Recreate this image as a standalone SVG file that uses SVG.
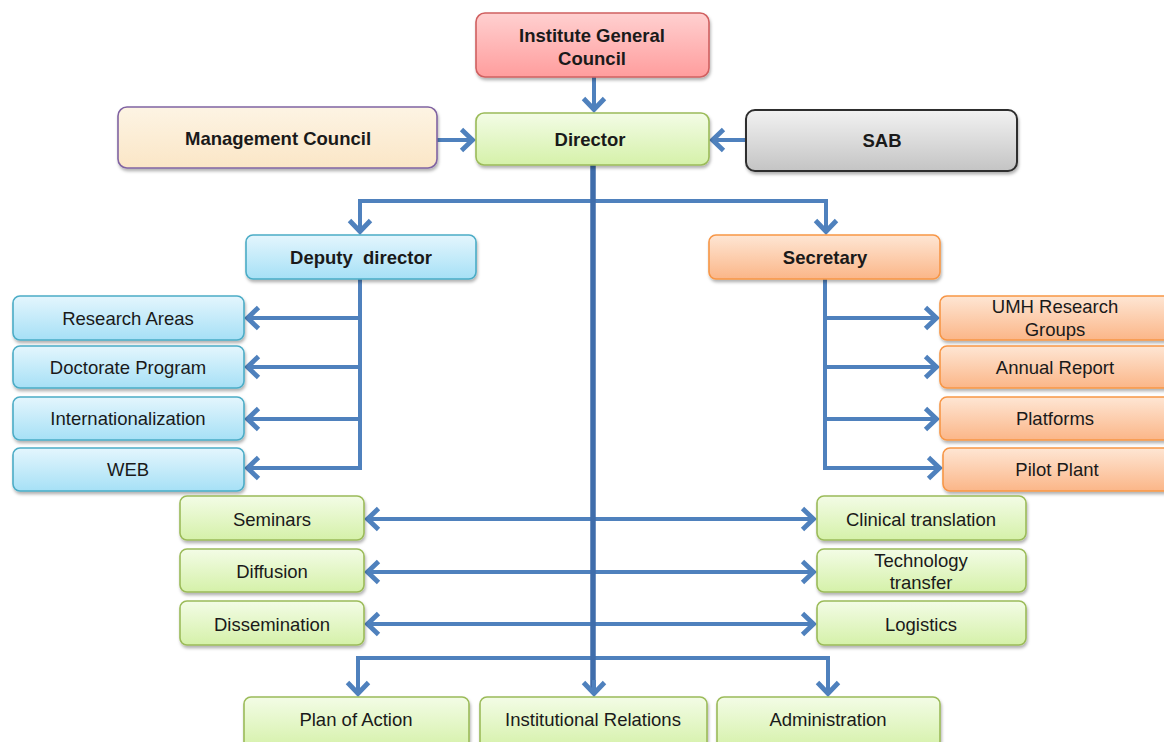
<svg xmlns="http://www.w3.org/2000/svg" width="1164" height="742" viewBox="0 0 1164 742">
<style>
text{font-family:"Liberation Sans",Arial,sans-serif;font-size:18.5px;fill:#1a1a1a;text-anchor:middle}
.b{font-weight:bold}
.c{fill:none;stroke:#4f81bd;stroke-width:4;stroke-linejoin:miter}
.trunk{fill:none;stroke:#3f6dab;stroke-width:5.5}
.box{stroke-width:1.6;filter:url(#sh)}
.red{fill:url(#gRed);stroke:#d06060}
.grn{fill:url(#gGrn);stroke:#9bbb59}
.blu{fill:url(#gBlu);stroke:#4bacc6}
.org{fill:url(#gOrg);stroke:#f79646}
.gry{fill:url(#gGry);stroke:#2e2e2e;stroke-width:2}
.bge{fill:url(#gBge);stroke:#8064a2}
</style>
<defs>
<filter id="sh" x="-10%" y="-20%" width="120%" height="150%"><feDropShadow dx="1" dy="2.5" stdDeviation="1.5" flood-color="#000" flood-opacity="0.3"/></filter>
<linearGradient id="gRed" x1="0" y1="0" x2="0" y2="1"><stop offset="0" stop-color="#ffd0d0"/><stop offset="1" stop-color="#ff9d9d"/></linearGradient>
<linearGradient id="gGrn" x1="0" y1="0" x2="0" y2="1"><stop offset="0" stop-color="#f3fce6"/><stop offset="1" stop-color="#d5f1a9"/></linearGradient>
<linearGradient id="gBlu" x1="0" y1="0" x2="0" y2="1"><stop offset="0" stop-color="#e4f6fd"/><stop offset="1" stop-color="#a6e0f6"/></linearGradient>
<linearGradient id="gOrg" x1="0" y1="0" x2="0" y2="1"><stop offset="0" stop-color="#fee6d4"/><stop offset="1" stop-color="#fbb688"/></linearGradient>
<linearGradient id="gGry" x1="0" y1="0" x2="0" y2="1"><stop offset="0" stop-color="#f2f2f2"/><stop offset="1" stop-color="#c4c4c4"/></linearGradient>
<linearGradient id="gBge" x1="0" y1="0" x2="0" y2="1"><stop offset="0" stop-color="#fdf4e4"/><stop offset="1" stop-color="#fbe6c6"/></linearGradient>
<marker id="ah" markerUnits="userSpaceOnUse" markerWidth="34" markerHeight="34" viewBox="-22 -17 34 34" refX="0" refY="0" orient="auto-start-reverse">
<path d="M-12.5,-10.5 L-1.5,0 L-12.5,10.5" fill="none" stroke="#4f81bd" stroke-width="4.8"/>
</marker>
</defs>

<g id="connectors">
<path class="c" d="M594,77 V111" marker-end="url(#ah)"/>
<path class="c" d="M437,140 H474" marker-end="url(#ah)"/>
<path class="c" d="M746,140 H711" marker-end="url(#ah)"/>
<path class="c" d="M593,201 H360 V233" marker-end="url(#ah)"/>
<path class="c" d="M593,201 H826 V233" marker-end="url(#ah)"/>
<path class="c" d="M360,279 V468 H246" marker-end="url(#ah)"/>
<path class="c" d="M360,318 H246" marker-end="url(#ah)"/>
<path class="c" d="M360,367 H246" marker-end="url(#ah)"/>
<path class="c" d="M360,419 H246" marker-end="url(#ah)"/>
<path class="c" d="M825,279 V468 H941" marker-end="url(#ah)"/>
<path class="c" d="M825,318 H938" marker-end="url(#ah)"/>
<path class="c" d="M825,367 H938" marker-end="url(#ah)"/>
<path class="c" d="M825,419 H938" marker-end="url(#ah)"/>
<path class="c" d="M366,519 H815" marker-start="url(#ah)" marker-end="url(#ah)"/>
<path class="c" d="M366,572 H815" marker-start="url(#ah)" marker-end="url(#ah)"/>
<path class="c" d="M366,624 H815" marker-start="url(#ah)" marker-end="url(#ah)"/>
<path class="c" d="M593,658 H358 V695" marker-end="url(#ah)"/>
<path class="c" d="M593,658 H828 V695" marker-end="url(#ah)"/>
<path class="trunk" d="M593,165 V690"/>
<path class="c" d="M594,680 V695" marker-end="url(#ah)"/>
</g>

<g id="igc"><rect class="box red" x="476" y="13" width="233" height="64" rx="9"/><text class="b" x="592" y="42">Institute General</text><text class="b" x="592" y="65">Council</text></g>
<g id="director"><rect class="box grn" x="476" y="113" width="233" height="52" rx="8"/><text class="b" x="590" y="146">Director</text></g>
<g id="mgmt"><rect class="box bge" x="118" y="107" width="319" height="61" rx="9"/><text class="b" x="278" y="145">Management Council</text></g>
<g id="sab"><rect class="box gry" x="746" y="110" width="271" height="61" rx="9"/><text class="b" x="882" y="147">SAB</text></g>
<g id="deputy"><rect class="box blu" x="246" y="235" width="230" height="44" rx="7"/><text class="b" x="361" y="264" xml:space="preserve">Deputy  director</text></g>
<g id="secretary"><rect class="box org" x="709" y="235" width="231" height="44" rx="7"/><text class="b" x="825" y="264">Secretary</text></g>

<g id="research-areas"><rect class="box blu" x="13" y="296" width="231" height="44" rx="7"/><text x="128" y="325">Research Areas</text></g>
<g id="doctorate"><rect class="box blu" x="13" y="346" width="231" height="42" rx="7"/><text x="128" y="374">Doctorate Program</text></g>
<g id="intl"><rect class="box blu" x="13" y="397" width="231" height="43" rx="7"/><text x="128" y="425">Internationalization</text></g>
<g id="web"><rect class="box blu" x="13" y="448" width="231" height="43" rx="7"/><text x="128" y="476">WEB</text></g>

<g id="umh"><rect class="box org" x="940" y="296" width="232" height="44" rx="7"/><text x="1055" y="313">UMH Research</text><text x="1055" y="336">Groups</text></g>
<g id="annual"><rect class="box org" x="940" y="346" width="232" height="42" rx="7"/><text x="1055" y="374">Annual Report</text></g>
<g id="platforms"><rect class="box org" x="940" y="397" width="232" height="43" rx="7"/><text x="1055" y="425">Platforms</text></g>
<g id="pilot"><rect class="box org" x="943" y="448" width="229" height="43" rx="7"/><text x="1057" y="476">Pilot Plant</text></g>

<g id="seminars"><rect class="box grn" x="180" y="496" width="184" height="44" rx="7"/><text x="272" y="526">Seminars</text></g>
<g id="diffusion"><rect class="box grn" x="180" y="549" width="184" height="43" rx="7"/><text x="272" y="578">Diffusion</text></g>
<g id="dissemination"><rect class="box grn" x="180" y="601" width="184" height="44" rx="7"/><text x="272" y="631">Dissemination</text></g>

<g id="clinical"><rect class="box grn" x="817" y="496" width="209" height="44" rx="7"/><text x="921" y="526">Clinical translation</text></g>
<g id="techtransfer"><rect class="box grn" x="817" y="549" width="209" height="43" rx="7"/><text x="921" y="567">Technology</text><text x="921" y="589">transfer</text></g>
<g id="logistics"><rect class="box grn" x="817" y="601" width="209" height="44" rx="7"/><text x="921" y="631">Logistics</text></g>

<g id="plan"><rect class="box grn" x="244" y="697" width="225" height="52" rx="7"/><text x="356" y="726">Plan of Action</text></g>
<g id="institutional"><rect class="box grn" x="480" y="697" width="227" height="52" rx="7"/><text x="593" y="726">Institutional Relations</text></g>
<g id="administration"><rect class="box grn" x="717" y="697" width="223" height="52" rx="7"/><text x="828" y="726">Administration</text></g>
</svg>
